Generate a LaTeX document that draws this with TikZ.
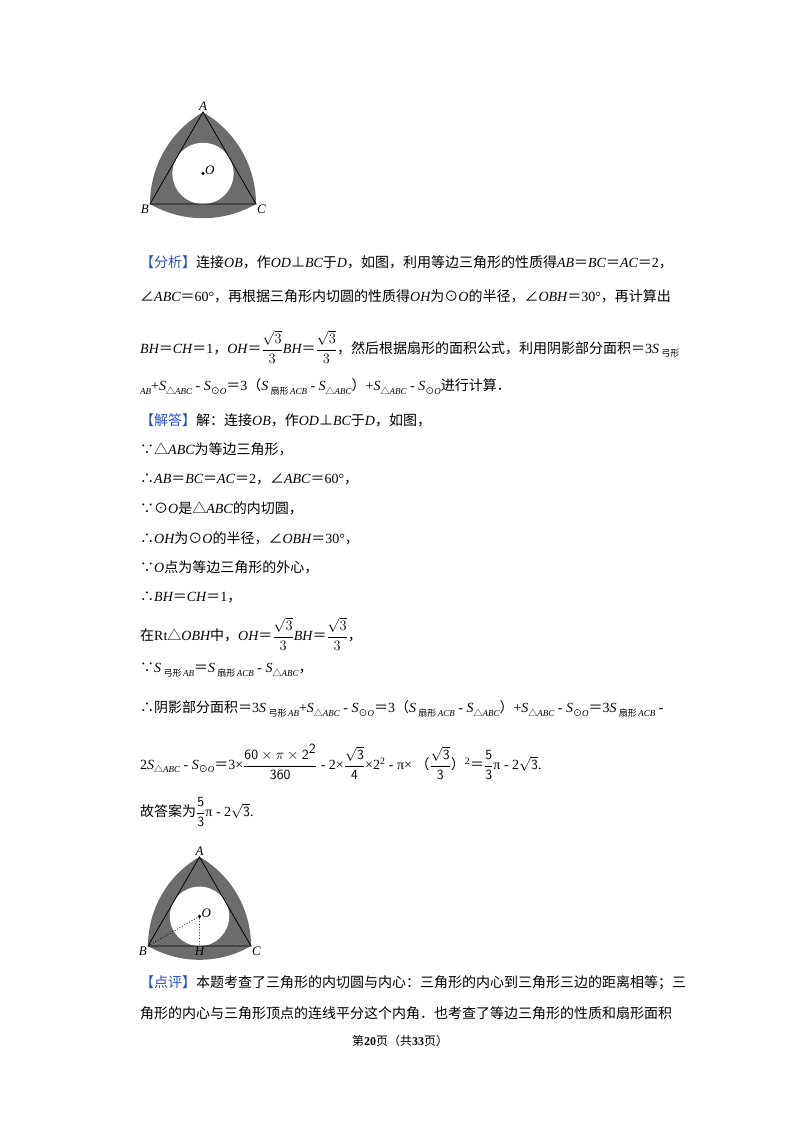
\documentclass[tikz,border=0pt]{standalone}
\usepackage{fontspec}
\usetikzlibrary{calc}
\setmainfont{Liberation Serif}
\newfontfamily\cjk{Noto Sans CJK SC}
\newfontfamily\lser{Liberation Serif}
\newcommand\I[1]{{\lser\itshape #1}}
\newcommand\N[1]{{\lser #1}}
\newcommand\sbx[1]{\raisebox{-0.45ex}{\fontsize{9}{10}\selectfont #1}}
\newcommand\fr[2]{$\displaystyle\frac{#1}{#2}$}
\newcommand\hd[1]{{\color{tagblue}#1}}
\definecolor{tagblue}{RGB}{40,80,200}
\definecolor{shadegray}{RGB}{108,108,108}
\begin{document}
\begin{tikzpicture}[x=1pt,y=-1pt,
  txt/.style={anchor=west,inner sep=0pt,font=\cjk\fontsize{14}{16}\selectfont},
  lab/.style={inner sep=1pt,font=\lser\itshape\fontsize{13}{14}\selectfont},
  tri/.style={draw=black,line width=0.8pt},
  dotl/.style={draw=black,line width=0.8pt,dotted}]
\useasboundingbox (0,0) rectangle (800,1132);
% ---------- figure 1
\coordinate (A1) at (203,112);
\coordinate (B1) at (150,204);
\coordinate (C1) at (256,204);
\coordinate (O1) at (203,173.4);
\fill[shadegray] (B1) arc[start angle=120,end angle=60,radius=106] arc[start angle=0,end angle=-60,radius=106] arc[start angle=-120,end angle=-180,radius=106] -- cycle;
\fill[white] (O1) circle[radius=30.6];
\draw[tri] (A1) -- (B1) -- (C1) -- cycle;
\fill (O1) circle[radius=1.8];
\node[lab,above] (la1) at (A1) {A};
\node[lab,below left] (lb1) at (B1) {B};
\node[lab,below right] (lc1) at (C1) {C};
\node[lab,right] (lo1) at ($(O1)+(1,-3)$) {O};
% ---------- figure 2
\coordinate (A2) at (199.5,857);
\coordinate (B2) at (148,946);
\coordinate (C2) at (251,946);
\coordinate (O2) at (199.5,916.3);
\coordinate (H2) at (199.5,946);
\fill[shadegray] (B2) arc[start angle=120,end angle=60,radius=103] arc[start angle=0,end angle=-60,radius=103] arc[start angle=-120,end angle=-180,radius=103] -- cycle;
\fill[white] (O2) circle[radius=29.7];
\draw[tri] (A2) -- (B2) -- (C2) -- cycle;
\draw[dotl] (B2) -- (O2) -- (H2);
\fill (O2) circle[radius=1.8];
\node[lab,above] (la2) at (A2) {A};
\node[lab,below left] (lb2) at (B2) {B};
\node[lab,below right] (lc2) at (C2) {C};
\node[lab,below] (lh2) at (H2) {H};
\node[lab,right] (lo2) at ($(O2)+(1,-3)$) {O};
% ---------- text
\node[txt] (t1) at (140,262) {\hd{【分析】}连接\I{OB}，作\I{OD}⊥\I{BC}于\I{D}，如图，利用等边三角形的性质得\I{AB}＝\I{BC}＝\I{AC}＝\N{2}，};
\node[txt] (t2) at (140,296) {∠\I{ABC}＝\N{60°}，再根据三角形内切圆的性质得\I{OH}为⊙\I{O}的半径，∠\I{OBH}＝\N{30°}，再计算出};
\node[txt] (t3) at (140,347) {\I{BH}＝\I{CH}＝\N{1}，\I{OH}＝\fr{\sqrt3}{3}\I{BH}＝\fr{\sqrt3}{3}，然后根据扇形的面积公式，利用阴影部分面积＝\N{3}\I{S}\,\sbx{弓形}};
\node[txt] (t4) at (140,387) {\sbx{\I{AB}}\N{+}\I{S}\sbx{△\I{ABC}}\N{ - }\I{S}\sbx{⊙\I{O}}＝\N{3}（\I{S}\,\sbx{扇形\,\I{ACB}}\N{ - }\I{S}\sbx{△\I{ABC}}）\N{+}\I{S}\sbx{△\I{ABC}}\N{ - }\I{S}\sbx{⊙\I{O}}进行计算．};
\node[txt] (t5) at (140,420) {\hd{【解答】}解：连接\I{OB}，作\I{OD}⊥\I{BC}于\I{D}，如图，};
\node[txt] (t6) at (140,449) {∵△\I{ABC}为等边三角形，};
\node[txt] (t7) at (140,479) {∴\I{AB}＝\I{BC}＝\I{AC}＝\N{2}，∠\I{ABC}＝\N{60°}，};
\node[txt] (t8) at (140,508) {∵⊙\I{O}是△\I{ABC}的内切圆，};
\node[txt] (t9) at (140,538) {∴\I{OH}为⊙\I{O}的半径，∠\I{OBH}＝\N{30°}，};
\node[txt] (t10) at (140,567) {∵\I{O}点为等边三角形的外心，};
\node[txt] (t11) at (140,597) {∴\I{BH}＝\I{CH}＝\N{1}，};
\node[txt] (t12) at (140,634) {在\N{Rt}△\I{OBH}中，\I{OH}＝\fr{\sqrt3}{3}\I{BH}＝\fr{\sqrt3}{3}，};
\node[txt] (t13) at (140,670) {∵\I{S}\,\sbx{弓形\,\I{AB}}＝\I{S}\,\sbx{扇形\,\I{ACB}}\N{ - }\I{S}\sbx{△\I{ABC}}，};
\node[txt] (t14) at (140,709) {∴阴影部分面积＝\N{3}\I{S}\,\sbx{弓形\,\I{AB}}\N{+}\I{S}\sbx{△\I{ABC}}\N{ - }\I{S}\sbx{⊙\I{O}}＝\N{3}（\I{S}\,\sbx{扇形\,\I{ACB}}\N{ - }\I{S}\sbx{△\I{ABC}}）\N{+}\I{S}\sbx{△\I{ABC}}\N{ - }\I{S}\sbx{⊙\I{O}}＝\N{3}\I{S}\,\sbx{扇形\,\I{ACB}}\N{ -}};
\node[txt] (t15) at (140,762) {\N{2}\I{S}\sbx{△\I{ABC}}\N{ - }\I{S}\sbx{⊙\I{O}}＝\N{3×}\fr{\textsf{60}\times\pi\times\textsf{2}^{\textsf{2}}}{\textsf{360}}\N{ - 2×}\fr{\sqrt{\textsf{3}}}{\textsf{4}}\N{×2\textsuperscript{2} - π× }（\fr{\sqrt{\textsf{3}}}{\textsf{3}}）\N{\textsuperscript{2}}＝\fr{\textsf{5}}{\textsf{3}}\N{π - 2}$\sqrt{\textsf{3}}$\N{.}};
\node[txt] (t16) at (140,812) {故答案为\fr{\textsf{5}}{\textsf{3}}\N{π - 2}$\sqrt{\textsf{3}}$\N{.}};
\node[txt] (t17) at (140,983) {\hd{【点评】}本题考查了三角形的内切圆与内心：三角形的内心到三角形三边的距离相等；三};
\node[txt] (t18) at (140,1013) {角形的内心与三角形顶点的连线平分这个内角．也考查了等边三角形的性质和扇形面积};
\node[txt,anchor=center] (ft) at (400,1041) {\fontsize{12}{14}\selectfont 第\N{\textbf{20}}页（共\N{\textbf{33}}页）};
\end{tikzpicture}
\end{document}
